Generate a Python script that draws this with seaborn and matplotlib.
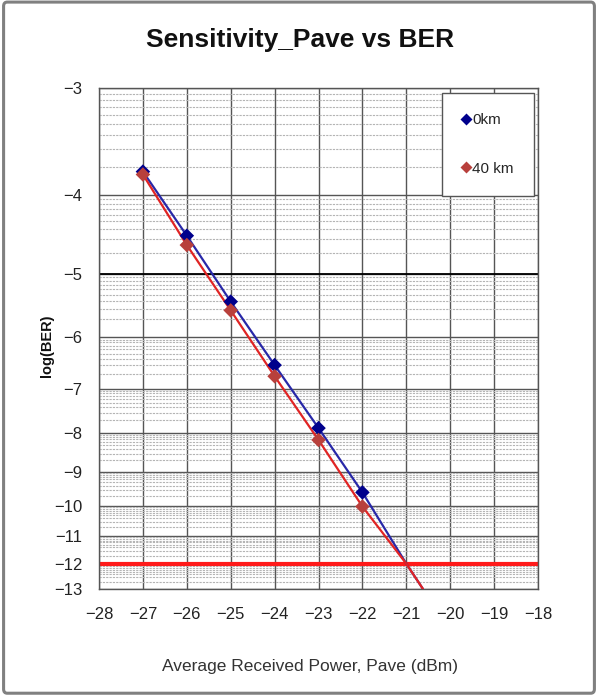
import math
import matplotlib
matplotlib.use("Agg")
import matplotlib.pyplot as plt
from matplotlib.patches import FancyBboxPatch
import seaborn as sns
import pandas as pd
import numpy as np

# measured points, log10(BER) vs received power (dBm)
power_dbm = [-27, -26, -25, -24, -23, -22]
log_ber_0km = [-3.75, -4.48, -5.41, -6.52, -7.88, -9.60]
log_ber_40km = [-3.78, -4.60, -5.55, -6.74, -8.17, -10.03]
# both curves are extended to the 1e-12 crossing and the bottom of the chart
ext_power_dbm = [-21, -20.62]
ext_log_ber = [-12, -13]
series_names = ["0km", "40 km"]
y_ticks = [-3, -4, -5, -6, -7, -8, -9, -10, -11, -12, -13]
x_ticks = list(range(-28, -17))
ber_limit = -12

_erfc = np.vectorize(math.erfc, otypes=[float])


def q_from_logber(lb):
    lb = np.clip(np.asarray(lb, dtype=float), -40, -0.5)
    ber = 10.0 ** lb
    lo = np.zeros_like(ber)
    hi = np.full_like(ber, 14.0)
    if ber.size == 0:
        return ber
    for _ in range(50):
        mid = (lo + hi) / 2
        val = 0.5 * _erfc(mid / np.sqrt(2))
        below = val < ber
        hi = np.where(below, mid, hi)
        lo = np.where(below, lo, mid)
    return (lo + hi) / 2


def forward(lb):
    return -np.log10(q_from_logber(lb))


def inverse(v):
    q = 10.0 ** (-np.asarray(v, dtype=float))
    q = np.clip(q, 1e-6, 13.0)
    if q.size == 0:
        return q
    return np.log10(0.5 * _erfc(q / np.sqrt(2)))


df = pd.DataFrame({
    "power": power_dbm * 2,
    "logber": log_ber_0km + log_ber_40km,
    "fiber": [series_names[0]] * len(power_dbm) + [series_names[1]] * len(power_dbm),
})

sns.set_style("white")
plt.rcParams["font.family"] = ["Liberation Sans", "DejaVu Sans"]

fig = plt.figure(figsize=(5.98, 6.96), dpi=100)
ax = fig.add_axes([0.1656, 0.1537, 0.7341, 0.7199])
ax.set_yscale("function", functions=(forward, inverse))
ax.set_xlim(-28, -18)
ax.set_ylim(-13, -3)

# gridlines
minor = [math.log10(k * 10.0 ** -n) for n in range(4, 14) for k in range(2, 10)]
minor = [m for m in minor if -13 < m < -3]
ax.set_yticks(minor, minor=True)
ax.set_yticks(y_ticks, labels=[f"\u2212{abs(t)}" for t in y_ticks])
ax.set_xticks(x_ticks, labels=[f"\u2212{abs(t)}" for t in x_ticks])
ax.grid(True, which="major", color="#555555", linewidth=1.0)
ax.grid(True, which="minor", axis="y", color="#b4b4b4", linewidth=0.8, linestyle=(0, (2, 1)))
ax.axhline(-5, color="black", linewidth=1.3, zorder=1.5)
ax.axhline(ber_limit, color="#ff1a1a", linewidth=3, zorder=2)

line_colors = {"0km": "#2828a8", "40 km": "#e02424"}
marker_colors = {"0km": "#00008c", "40 km": "#b8403c"}

for name, vals in zip(series_names, [log_ber_0km, log_ber_40km]):
    ax.plot(power_dbm + ext_power_dbm, vals + ext_log_ber,
            color=line_colors[name], linewidth=1.6, zorder=3)

sns.scatterplot(data=df, x="power", y="logber", hue="fiber", style="fiber",
                markers={"0km": "D", "40 km": "D"}, palette=marker_colors,
                s=55, edgecolor="none", ax=ax, zorder=4)

for sp in ax.spines.values():
    sp.set_color("#555555")
    sp.set_linewidth(1.0)
ax.tick_params(axis="both", which="both", length=0, labelsize=12, colors="#222222")
ax.tick_params(axis="x", pad=13)
ax.tick_params(axis="y", pad=12)
ax.set_xlabel("")
ax.set_ylabel("")

leg = ax.legend(loc="upper right", bbox_to_anchor=(0.99, 0.989), borderaxespad=0,
                frameon=True, fancybox=False, edgecolor="#555555", framealpha=1,
                fontsize=11, labelspacing=2.25, borderpad=1.3, handlelength=0.6,
                handletextpad=0.1, markerscale=0.8)
leg.get_frame().set_linewidth(1.0)

fig.text(0.5025, 0.9425, "Sensitivity_Pave vs BER", ha="center", va="center",
         fontsize=19, fontweight="bold", color="#111111")
fig.text(0.518, 0.0431, "Average Received Power, Pave (dBm)", ha="center", va="center",
         fontsize=12.5, color="#333333")
fig.text(0.0786, 0.503, "log(BER)", ha="center", va="center", rotation=90,
         fontsize=10.5, fontweight="bold", color="#111111")

fig.patches.append(FancyBboxPatch((0.006, 0.004), 0.988, 0.993, boxstyle="round,pad=0,rounding_size=0.006",
                                  transform=fig.transFigure, fill=False, edgecolor="#808080",
                                  linewidth=2.2))

fig.savefig("out.png", dpi=100)
